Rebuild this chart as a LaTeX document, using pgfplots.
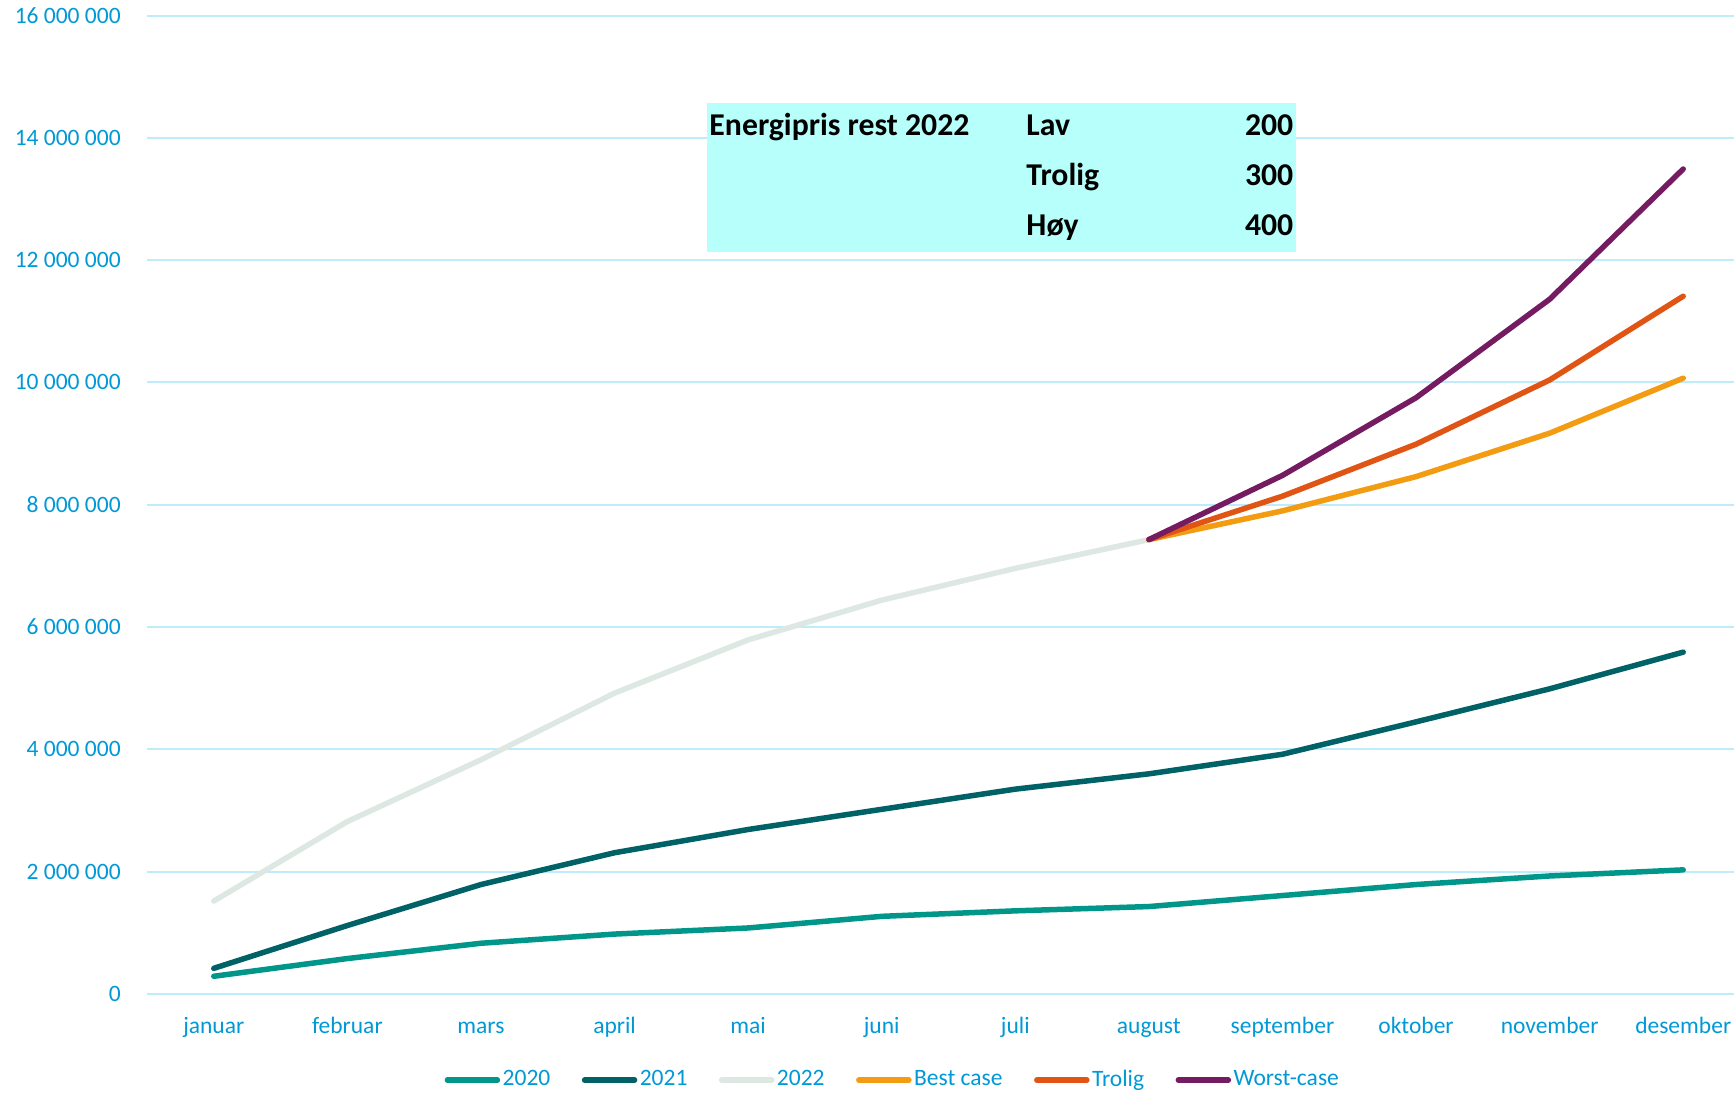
\documentclass[border=0pt]{standalone}
\usepackage{pgfplots}
\pgfplotsset{compat=1.18}
\usepackage{fontspec}
\setmainfont{Carlito}
\definecolor{tickblue}{RGB}{0,153,214}
\definecolor{gridc}{RGB}{190,236,250}
\definecolor{boxc}{RGB}{183,255,251}
\definecolor{c2020}{RGB}{0,150,138}
\definecolor{c2021}{RGB}{0,98,102}
\definecolor{c2022}{RGB}{221,232,226}
\definecolor{cbest}{RGB}{243,156,18}
\definecolor{ctrol}{RGB}{224,85,20}
\definecolor{cworst}{RGB}{116,27,97}
\begin{document}
\begin{tikzpicture}
\useasboundingbox (-58.8pt,-40pt) rectangle (634.8pt,397.6pt);
\begin{axis}[
  at={(0,0)}, anchor=south west, scale only axis,
  width=641.2pt, height=391.4pt,
  xmin=-0.5, xmax=11.5, ymin=0, ymax=16000000,
  xtick={0,1,2,3,4,5,6,7,8,9,10,11},
  xticklabels={januar,februar,mars,april,mai,juni,juli,august,september,oktober,november,desember},
  ytick={0,2000000,4000000,6000000,8000000,10000000,12000000,14000000,16000000},
  yticklabels={0,2 000 000,4 000 000,6 000 000,8 000 000,10 000 000,12 000 000,14 000 000,16 000 000},
  scaled y ticks=false,
  ymajorgrids, grid style={gridc, line width=0.8pt},
  axis line style={draw=none}, major tick length=0pt,
  tick label style={font=\fontsize{9.4}{11}\selectfont, text=tickblue},
  yticklabel style={xshift=-7pt},
  xticklabel style={anchor=base, yshift=-15.9pt},
  every axis plot/.append style={line width=2.2pt, line cap=round, line join=round, no markers},
  legend style={at={(0.4654,-0.088)}, anchor=center, legend columns=6, draw=none, fill=none,
    font=\fontsize{9.4}{11}\selectfont, text=tickblue,
    nodes={inner xsep=1pt},
    /tikz/every even column/.append style={column sep=11.6pt}},
  legend image code/.code={\draw[#1, line width=2.2pt, line cap=round] (0pt,0pt) -- (20pt,0pt);},
]
\fill[boxc] (axis cs:3.69,12130000) rectangle (axis cs:8.10,14570000);
\node[anchor=base west, font=\fontsize{12.7}{15}\selectfont\bfseries, inner sep=0pt] at (axis cs:3.707,14043000) {Energipris rest 2022};
\node[anchor=base west, font=\fontsize{12.7}{15}\selectfont\bfseries, inner sep=0pt] at (axis cs:6.08,14043000) {Lav};
\node[anchor=base west, font=\fontsize{12.7}{15}\selectfont\bfseries, inner sep=0pt] at (axis cs:6.08,13217000) {Trolig};
\node[anchor=base west, font=\fontsize{12.7}{15}\selectfont\bfseries, inner sep=0pt] at (axis cs:6.08,12399000) {Høy};
\node[anchor=base east, font=\fontsize{12.7}{15}\selectfont\bfseries, inner sep=0pt] at (axis cs:8.085,14043000) {200};
\node[anchor=base east, font=\fontsize{12.7}{15}\selectfont\bfseries, inner sep=0pt] at (axis cs:8.085,13217000) {300};
\node[anchor=base east, font=\fontsize{12.7}{15}\selectfont\bfseries, inner sep=0pt] at (axis cs:8.085,12399000) {400};
\addplot[c2020] coordinates {(0,290000) (1,580000) (2,830000) (3,980000) (4,1080000) (5,1270000) (6,1360000) (7,1430000) (8,1610000) (9,1790000) (10,1930000) (11,2030000)};
\addlegendentry{2020}
\addplot[c2021] coordinates {(0,420000) (1,1120000) (2,1790000) (3,2310000) (4,2690000) (5,3020000) (6,3350000) (7,3600000) (8,3920000) (9,4450000) (10,4990000) (11,5590000)};
\addlegendentry{2021}
\addplot[c2022] coordinates {(0,1520000) (1,2820000) (2,3830000) (3,4920000) (4,5790000) (5,6440000) (6,6960000) (7,7430000)};
\addlegendentry{2022}
\addplot[cbest] coordinates {(7,7430000) (8,7900000) (9,8460000) (10,9170000) (11,10070000)};
\addlegendentry{Best case}
\addplot[ctrol] coordinates {(7,7430000) (8,8140000) (9,8990000) (10,10040000) (11,11410000)};
\addlegendentry{Trolig}
\addplot[cworst] coordinates {(7,7430000) (8,8480000) (9,9750000) (10,11360000) (11,13490000)};
\addlegendentry{Worst-case}
\end{axis}
\end{tikzpicture}
\end{document}
